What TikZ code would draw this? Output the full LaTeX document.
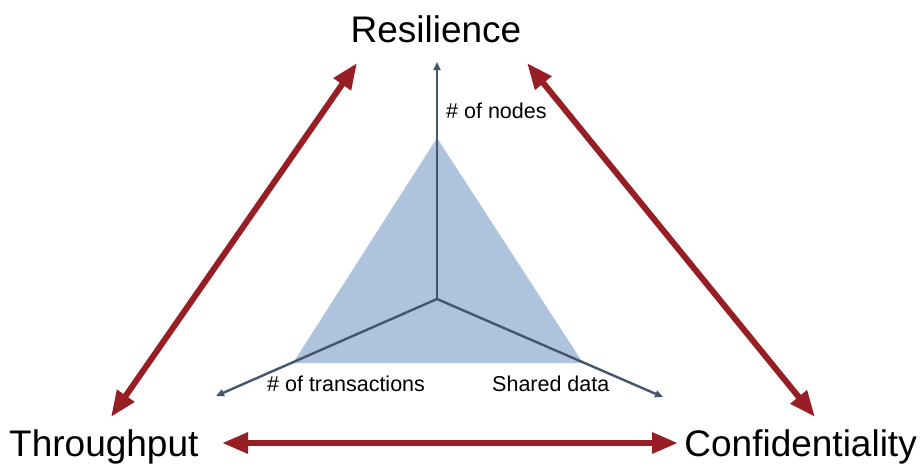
\documentclass[tikz,border=0pt]{standalone}
\usepackage{fontspec}
\setmainfont{Liberation Sans}
\usetikzlibrary{arrows.meta}
\definecolor{redarrow}{RGB}{152,30,38}
\definecolor{axisblue}{RGB}{68,86,110}
\definecolor{trifill}{RGB}{173,196,220}
\tikzset{
  bigarrow/.style={draw=redarrow, line width=6pt, {Triangle[length=26pt,width=20pt]}-{Triangle[length=26pt,width=20pt]}},
  axisarrow/.style={draw=axisblue, line width=2.4pt, -{Triangle[length=8pt,width=7pt]}},
  bigtext/.style={inner sep=0pt, font=\fontsize{37}{40}\selectfont},
  smalltext/.style={inner sep=0pt, font=\fontsize{21.5}{24}\selectfont}
}
\begin{document}
\begin{tikzpicture}[x=1pt,y=-1pt]
\useasboundingbox (0,0) rectangle (920,464);
% triangle
\fill[trifill] (437,138) -- (293,363) -- (583,363) -- cycle;
% axes
\coordinate (c) at (437,299);
\coordinate (up) at (437,62);
\coordinate (lt) at (216,396);
\coordinate (rt) at (663,397);
\draw[axisarrow] (c) -- (up);
\draw[axisarrow] (c) -- (lt);
\draw[axisarrow] (c) -- (rt);
% labels
\node[smalltext, anchor=base west] (nodes) at (446,118) {\# of nodes};
\node[smalltext, anchor=base west] (trans) at (267,391) {\# of transactions};
\node[smalltext, anchor=base west] (shared) at (492,391) {Shared data};
% big texts
\node[bigtext, anchor=base] (res) at (436,42) {Resilience};
\node[bigtext, anchor=base west] (thr) at (9,456) {Throughput};
\node[bigtext, anchor=base east] (conf) at (917,456) {Confidentiality};
% red arrows
\coordinate (a1) at (111,417);
\coordinate (a2) at (357,63);
\coordinate (b1) at (527,63);
\coordinate (b2) at (815,417);
\coordinate (c1) at (222,443);
\coordinate (c2) at (678,443);
\draw[bigarrow] (a1) -- (a2);
\draw[bigarrow] (b1) -- (b2);
\draw[bigarrow] (c1) -- (c2);
\end{tikzpicture}
\end{document}
